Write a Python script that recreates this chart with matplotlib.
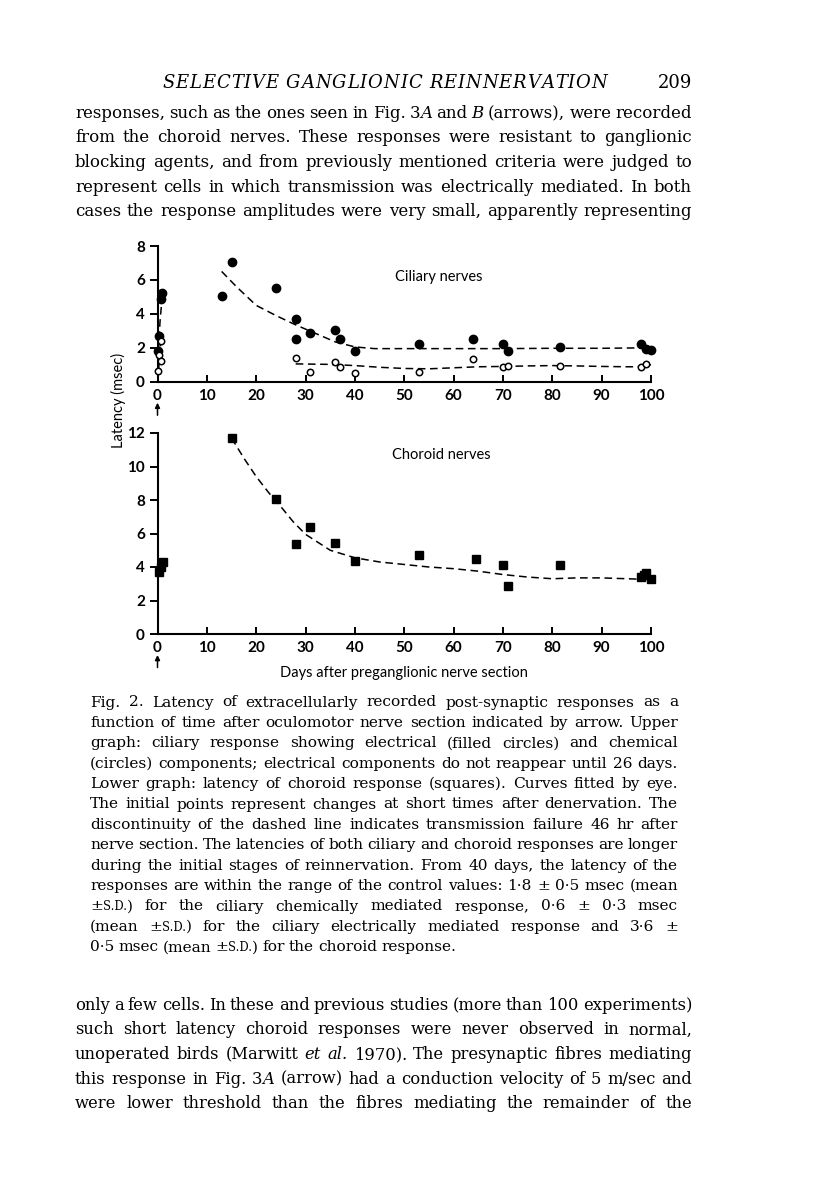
import matplotlib
matplotlib.use('Agg')
import matplotlib.pyplot as plt
from matplotlib.transforms import offset_copy

# ---------------- data ----------------
x_ticks = [0, 10, 20, 30, 40, 50, 60, 70, 80, 90, 100]
upper_yticks = [0, 2, 4, 6, 8]
lower_yticks = [0, 2, 4, 6, 8, 10, 12]

# Ciliary nerves: electrical (filled circles)
days_filled = [0.2, 0.4, 0.7, 1.0, 13, 15, 24, 28, 28, 31, 36, 37, 40, 53, 64, 70, 71, 81.5, 98, 99, 100]
lat_filled = [1.8, 2.7, 4.9, 5.2, 5.05, 7.05, 5.55, 3.7, 2.5, 2.85, 3.05, 2.5, 1.8, 2.25, 2.5, 2.25, 1.8, 2.05, 2.25, 1.95, 1.85]
# Ciliary nerves: chemical (open circles)
days_open = [0.2, 0.3, 0.7, 0.7, 28, 31, 36, 37, 40, 53, 64, 70, 71, 81.5, 98, 99]
lat_open = [0.65, 1.6, 1.2, 2.4, 1.38, 0.57, 1.15, 0.87, 0.5, 0.55, 1.32, 0.86, 0.9, 0.92, 0.87, 1.03]

# curves fitted by eye
fit_filled_early_x = [0.2, 0.5, 1.0]
fit_filled_early_y = [1.8, 3.5, 5.2]
fit_filled_x = [13, 16, 20, 24, 28, 32, 36, 40, 44, 50, 60, 70, 80, 90, 100]
fit_filled_y = [6.5, 5.6, 4.5, 3.9, 3.35, 2.85, 2.35, 2.05, 1.95, 1.95, 1.95, 1.95, 1.97, 1.97, 2.0]
fit_open_early_x = [0.2, 0.7]
fit_open_early_y = [0.65, 2.4]
fit_open_x = [28, 35, 40, 45, 50, 55, 60, 65, 70, 75, 80, 85, 90, 95, 98, 100]
fit_open_y = [1.05, 1.02, 0.95, 0.85, 0.78, 0.76, 0.82, 0.88, 0.9, 0.93, 0.95, 0.93, 0.9, 0.88, 0.88, 1.0]

# Choroid nerves (squares)
days_sq = [0.3, 0.7, 1.2, 15, 24, 28, 31, 36, 40, 53, 64.5, 70, 71, 81.5, 98, 98.5, 99, 100]
lat_sq = [3.7, 4.0, 4.3, 11.7, 8.05, 5.35, 6.4, 5.45, 4.35, 4.7, 4.5, 4.12, 2.85, 4.12, 3.4, 3.55, 3.65, 3.3]
fit_sq_x = [15, 17.5, 20, 22.5, 25, 27.5, 30, 35, 40, 45, 50, 55, 60, 65, 70, 75, 80, 85, 90, 95, 100]
fit_sq_y = [11.7, 10.5, 9.4, 8.45, 7.6, 6.7, 5.95, 5.0, 4.55, 4.3, 4.15, 4.0, 3.9, 3.75, 3.55, 3.4, 3.3, 3.35, 3.35, 3.3, 3.25]

header_title = "SELECTIVE GANGLIONIC REINNERVATION"
page_number = "209"
top_lines = [
    "responses, such as the ones seen in Fig. 3*A* and *B* (arrows), were recorded",
    "from the choroid nerves. These responses were resistant to ganglionic",
    "blocking agents, and from previously mentioned criteria were judged to",
    "represent cells in which transmission was electrically mediated. In both",
    "cases the response amplitudes were very small, apparently representing",
]
caption_lines = [
    "Fig. 2. Latency of extracellularly recorded post-synaptic responses as a",
    "function of time after oculomotor nerve section indicated by arrow. Upper",
    "graph: ciliary response showing electrical (filled circles) and chemical",
    "(circles) components; electrical components do not reappear until 26 days.",
    "Lower graph: latency of choroid response (squares). Curves fitted by eye.",
    "The initial points represent changes at short times after denervation. The",
    "discontinuity of the dashed line indicates transmission failure 46 hr after",
    "nerve section. The latencies of both ciliary and choroid responses are longer",
    "during the initial stages of reinnervation. From 40 days, the latency of the",
    "responses are within the range of the control values: 1·8 ± 0·5 msec (mean",
    "±^S.D.^) for the ciliary chemically mediated response, 0·6 ± 0·3 msec",
    "(mean ±^S.D.^) for the ciliary electrically mediated response and 3·6 ±",
    "0·5 msec (mean ±^S.D.^) for the choroid response.",
]
bottom_lines = [
    "only a few cells. In these and previous studies (more than 100 experiments)",
    "such short latency choroid responses were never observed in normal,",
    "unoperated birds (Marwitt *et* *al.* 1970). The presynaptic fibres mediating",
    "this response in Fig. 3*A* (arrow) had a conduction velocity of 5 m/sec and",
    "were lower threshold than the fibres mediating the remainder of the",
]

# ---------------- figure ----------------
W, H = 816, 1190
fig = plt.figure(figsize=(W / 100, H / 100), dpi=100)
fig.patch.set_facecolor('white')


def fx(px):
    return px / W


def fy(py):
    return 1 - py / H


SANS = ['Lato', 'DejaVu Sans']
SERIF = ['DejaVu Serif']

ax1 = fig.add_axes([fx(157.5), fy(381.7), (651 - 157.5) / W, (381.7 - 246) / H])
ax2 = fig.add_axes([fx(157.5), fy(634), (651 - 157.5) / W, (634 - 433) / H])

dash = (0, (5, 3))
ax1.plot(fit_filled_early_x, fit_filled_early_y, color='k', lw=1.1, ls=dash, clip_on=False)
ax1.plot(fit_filled_x, fit_filled_y, color='k', lw=1.1, ls=dash, clip_on=False)
ax1.plot(fit_open_early_x, fit_open_early_y, color='k', lw=1.1, ls=dash, clip_on=False)
ax1.plot(fit_open_x, fit_open_y, color='k', lw=1.1, ls=dash, clip_on=False)
ax1.plot(days_filled, lat_filled, 'o', color='k', ms=6, clip_on=False, zorder=3)
ax1.plot(days_open, lat_open, 'o', mfc='white', mec='k', mew=1.1, ms=4.6, clip_on=False, zorder=3)
ax1.text(57.0, 6.15, 'Ciliary nerves', family=SANS, fontsize=10.5, ha='center', va='center')

ax2.plot(fit_sq_x, fit_sq_y, color='k', lw=1.1, ls=dash, clip_on=False)
ax2.plot(days_sq, lat_sq, 's', color='k', ms=6, clip_on=False, zorder=3)
ax2.text(57.6, 10.7, 'Choroid nerves', family=SANS, fontsize=10.5, ha='center', va='center')

for ax, yt in ((ax1, upper_yticks), (ax2, lower_yticks)):
    ax.set_xlim(0, 100)
    ax.set_ylim(0, max(yt))
    ax.set_xticks(x_ticks)
    ax.set_xticklabels([str(v) for v in x_ticks])
    ax.set_yticks(yt)
    ax.set_yticklabels([str(v) for v in yt])
    for s in ('top', 'right'):
        ax.spines[s].set_visible(False)
    for s in ('left', 'bottom'):
        ax.spines[s].set_linewidth(1.5)
    ax.tick_params(axis='x', direction='in', length=5, width=1.4, pad=5)
    ax.tick_params(axis='y', direction='out', length=6, width=1.4, pad=3)
    for lab in ax.get_xticklabels() + ax.get_yticklabels():
        lab.set_family(SANS)
        lab.set_fontweight('bold')
        lab.set_fontsize(11)
    ax.patch.set_alpha(0)
    # arrow below the 0 day tick
    tr = offset_copy(ax.transData, fig=fig, x=0, y=-21, units='dots')
    ax.annotate('', xy=(0, 0), xycoords=tr, xytext=(0, -9), textcoords='offset points',
                arrowprops=dict(arrowstyle='-|>', lw=1.1, color='k', mutation_scale=7,
                                shrinkA=0, shrinkB=0), annotation_clip=False)

fig.text(fx(118), fy(400), 'Latency (msec)', rotation=90, family=SANS, fontsize=10.5,
         ha='center', va='center')
fig.text(fx(404), fy(673), 'Days after preganglionic nerve section', family=SANS,
         fontsize=10.5, ha='center', va='center')

# ---------------- text layout ----------------
renderer = fig.canvas.get_renderer()
SPACE_FACTOR = 0.75


def runs_of(token):
    runs, cur, it, sc = [], '', False, False
    for ch in token:
        if ch in '*^':
            if cur:
                runs.append((cur, it, sc))
                cur = ''
            if ch == '*':
                it = not it
            else:
                sc = not sc
        else:
            cur += ch
    if cur:
        runs.append((cur, it, sc))
    return runs


def wid(s, size, it=False, family=SERIF):
    t = fig.text(0, 0, s, fontsize=size, fontstyle='italic' if it else 'normal', family=family)
    w = t.get_window_extent(renderer).width
    t.remove()
    return w


def natural(line, size):
    toks = line.split(' ')
    tot = 0
    for tok in toks:
        for s, it, sc in runs_of(tok):
            tot += wid(s, size * (0.75 if sc else 1), it)
    sp = (wid('a a', size) - wid('aa', size)) * SPACE_FACTOR
    return tot + sp * (len(toks) - 1)


def fit_size(lines, width, justified_idx):
    m = max(natural(lines[i], 10) for i in justified_idx)
    return 10 * width / m


def draw_line(line, x0, x1, ybase, size, justify):
    toks = line.split(' ')
    objs, widths = [], []
    for tok in toks:
        rs, w = [], 0
        for s, it, sc in runs_of(tok):
            t = fig.text(0, 0, s, fontsize=size * (0.75 if sc else 1),
                         fontstyle='italic' if it else 'normal', family=SERIF,
                         ha='left', va='baseline')
            tw = t.get_window_extent(renderer).width
            rs.append((t, tw))
            w += tw
        objs.append(rs)
        widths.append(w)
    sp = (wid('a a', size) - wid('aa', size)) * 0.85
    if justify and len(toks) > 1:
        gap = (x1 - x0 - sum(widths)) / (len(toks) - 1)
    else:
        gap = sp
    x = x0
    for rs, w in zip(objs, widths):
        xx = x
        for t, tw in rs:
            t.set_position((fx(xx), fy(ybase)))
            xx += tw
        x += w + gap


def draw_block(lines, x0, x1, y0, dy, last_justified):
    n = len(lines)
    jidx = list(range(n)) if last_justified else list(range(n - 1))
    size = fit_size(lines, x1 - x0, jidx)
    for i, ln in enumerate(lines):
        draw_line(ln, x0, x1, y0 + i * dy, size, justify=(i in jidx))


# header (letter spaced italic caps)
hsize = 13
chars = list(header_title)
cw = [wid(c, hsize, True) if c != ' ' else wid('a a', hsize) - wid('aa', hsize) for c in chars]
hx0, hx1 = 162, 607
extra = (hx1 - hx0 - sum(cw)) / (len(chars) - 1)
x = hx0
for c, w in zip(chars, cw):
    fig.text(fx(x), fy(88), c, fontsize=hsize, fontstyle='italic', family=SERIF,
             ha='left', va='baseline')
    x += w + extra
fig.text(fx(692), fy(88), page_number, fontsize=13, family=SERIF, ha='right', va='baseline')

draw_block(top_lines, 75, 692, 118, 24.5, True)
draw_block(caption_lines, 90, 678, 706.5, 20.4, False)
draw_block(bottom_lines, 75, 692, 1010, 24.5, True)

fig.savefig('out.png', dpi=100, facecolor='white')
